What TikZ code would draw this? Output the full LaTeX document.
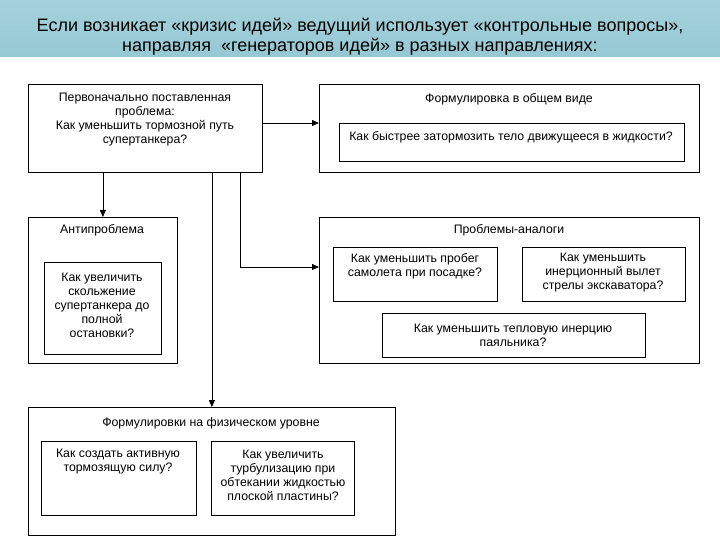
\documentclass[tikz,border=0pt]{standalone}
\usepackage{fontspec}
\setmainfont{Liberation Sans}
\usetikzlibrary{arrows.meta}
\tikzset{
  frame/.style={draw=black, line width=0.8pt, inner sep=0pt, anchor=north west, fill=white},
  txt/.style={align=center, inner sep=0pt, font=\fontsize{12.3}{14}\selectfont},
  conn/.style={draw=black, line width=0.8pt, -{Triangle[length=7pt,width=6pt]}},
  line/.style={draw=black, line width=0.8pt}
}
\begin{document}
\begin{tikzpicture}[x=1pt,y=-1pt]
\useasboundingbox (0,0) rectangle (720,540);
\fill[white] (0,0) rectangle (720,540);
\shade[top color={rgb,255:red,164;green,210;blue,219}, bottom color={rgb,255:red,150;green,200;blue,212}] (0,0) rectangle (720,57);
\node[align=center, inner sep=0pt, font=\fontsize{18}{20}\selectfont] (title) at (360,37)
  {Если возникает «кризис идей» ведущий использует «контрольные вопросы»,\\направляя \ «генераторов идей» в разных направлениях:};

% top-left problem
\node[frame, minimum width=234pt, minimum height=88pt] (prob) at (28,84) {};
\node[txt] (probtxt) at (145,119.5) {Первоначально поставленная\\проблема:\\Как уменьшить тормозной путь\\супертанкера?};

% general formulation
\node[frame, minimum width=380pt, minimum height=88pt] (gen) at (319,84) {};
\node[txt] (gentitle) at (509,99) {Формулировка в общем виде};
\node[frame, minimum width=345pt, minimum height=38pt] (geninner) at (339,123) {};
\node[txt] (gentxt) at (511,137) {Как быстрее затормозить тело движущееся в жидкости?};

% antiproblem
\node[frame, minimum width=149pt, minimum height=146pt] (anti) at (28,217) {};
\node[txt] (antititle) at (102,230) {Антипроблема};
\node[frame, minimum width=117pt, minimum height=92pt] (antiinner) at (44,262) {};
\node[txt] (antitxt) at (102,305) {Как увеличить\\скольжение\\супертанкера до\\полной\\остановки?};

% analogues
\node[frame, minimum width=380pt, minimum height=146pt] (analog) at (319,217) {};
\node[txt] (analogtitle) at (509,230) {Проблемы-аналоги};
\node[frame, minimum width=164pt, minimum height=54pt] (anA) at (333,247) {};
\node[txt] (anAtxt) at (415,266.5) {Как уменьшить пробег\\самолета при посадке?};
\node[frame, minimum width=163pt, minimum height=54pt] (anB) at (522,247) {};
\node[txt] (anBtxt) at (603,273) {Как уменьшить\\инерционный вылет\\стрелы экскаватора?};
\node[frame, minimum width=263pt, minimum height=44pt] (anC) at (382,313) {};
\node[txt] (anCtxt) at (513,335) {Как уменьшить тепловую инерцию\\паяльника?};

% physical level
\node[frame, minimum width=367pt, minimum height=128pt] (phys) at (28,407) {};
\node[txt] (phystitle) at (211,423) {Формулировки на физическом уровне};
\node[frame, minimum width=155pt, minimum height=74pt] (phA) at (41,441) {};
\node[txt] (phAtxt) at (118,461.5) {Как создать активную\\тормозящую силу?};
\node[frame, minimum width=143pt, minimum height=74pt] (phB) at (211,441) {};
\node[txt] (phBtxt) at (283,475) {Как увеличить\\турбулизацию при\\обтекании жидкостью\\плоской пластины?};

% connectors
\coordinate (c1) at (262,123);
\draw[conn] (c1) -- (c1 -| gen.west);
\draw[conn] (prob.south -| anti.north) -- (anti.north);
\draw[conn] (prob.south -| phys.north) -- (phys.north);
\coordinate (bend) at (240,267);
\draw[conn] (prob.south -| bend) -- (bend) -- (bend -| analog.west);
\end{tikzpicture}
\end{document}
